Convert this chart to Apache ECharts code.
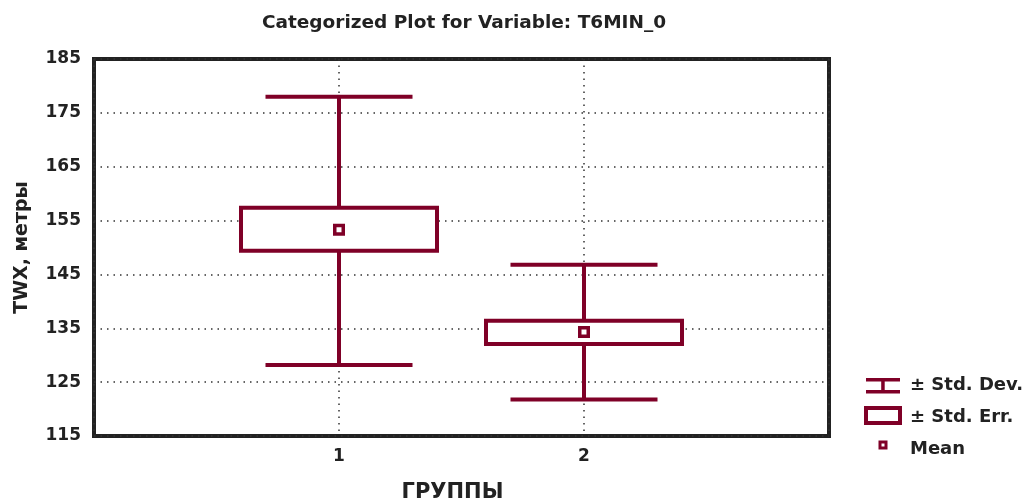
<!DOCTYPE html>
<html>
<head>
<meta charset="utf-8">
<script src="https://cdn.jsdelivr.net/npm/echarts@6/dist/echarts.min.js"></script>
<style>
  html, body { margin: 0; padding: 0; background: #fff; }
  #chart { width: 1025px; height: 503px; }
</style>
</head>
<body>
<div id="chart"></div>
<script>
// Group labels and per-group statistics of TWX (metres)
const groups = ['1', '2'];
const means  = [153.3, 134.3];
const seLow  = [149.4, 132.1];
const seHigh = [157.4, 136.4];
const sdLow  = [128.2, 121.8];
const sdHigh = [178.0, 146.8];
const yTicks = [115, 125, 135, 145, 155, 165, 175, 185];

const MAROON = '#7f0027';
const FONT = 'DejaVu Sans';
const BOX_HALF = 0.4;   // box half-width, x units
const CAP_HALF = 0.3;   // whisker cap half-width, x units

const sdData = groups.map((g, i) => [i + 1, sdLow[i], sdHigh[i]]);
const seData = groups.map((g, i) => [i + 1, seLow[i], seHigh[i]]);
const meanData = groups.map((g, i) => [i + 1, means[i]]);

const chart = echarts.init(document.getElementById('chart'), null, { renderer: 'canvas' });

chart.setOption({
  backgroundColor: '#fff',
  animation: false,
  title: {
    text: 'Categorized Plot for Variable: T6MIN_0',
    left: 459,
    top: 9,
    textAlign: 'center',
    textStyle: { fontFamily: FONT, fontWeight: 'bold', fontSize: 18.5, color: '#222' }
  },
  grid: {
    left: 94, right: 196, top: 59, bottom: 67,
    containLabel: false,
    outerBoundsMode: 'none',
    show: true, borderColor: '#222', borderWidth: 4, backgroundColor: '#fff'
  },
  xAxis: {
    type: 'value',
    min: 0, max: 3, interval: 1,
    name: 'ГРУППЫ',
    nameLocation: 'middle',
    nameGap: 46,
    nameTextStyle: { fontFamily: FONT, fontWeight: 'bold', fontSize: 21, color: '#222', padding: [0, 18, 0, 0] },
    axisLine: { show: false },
    axisTick: { show: false },
    axisLabel: {
      margin: 12,
      fontFamily: FONT, fontWeight: 'bold', fontSize: 17, color: '#222',
      formatter: v => groups[v - 1] !== undefined ? groups[v - 1] : ''
    },
    splitLine: { show: true, lineStyle: { color: '#333', width: 1.5, type: [1.5, 5] } }
  },
  yAxis: {
    type: 'value',
    min: yTicks[0], max: yTicks[yTicks.length - 1], interval: 10,
    name: 'TWX, метры',
    nameLocation: 'middle',
    nameGap: 62,
    nameRotate: 90,
    nameTextStyle: { fontFamily: FONT, fontWeight: 'bold', fontSize: 19, color: '#222' },
    axisLine: { show: false },
    axisTick: { show: false },
    axisLabel: { margin: 13, fontFamily: FONT, fontWeight: 'bold', fontSize: 17, color: '#222' },
    splitLine: { show: true, lineStyle: { color: '#333', width: 1.5, type: [1.5, 5] } }
  },
  series: [
    {
      name: '± Std. Dev.',
      type: 'custom',
      data: sdData,
      z: 2,
      renderItem: (params, api) => {
        const x = api.value(0);
        const top = api.coord([x, api.value(2)]);
        const bot = api.coord([x, api.value(1)]);
        const capL = api.coord([x - CAP_HALF, api.value(2)])[0];
        const capR = api.coord([x + CAP_HALF, api.value(2)])[0];
        const style = { stroke: MAROON, lineWidth: 4, fill: null };
        return {
          type: 'group',
          children: [
            { type: 'line', shape: { x1: top[0], y1: top[1], x2: bot[0], y2: bot[1] }, style },
            { type: 'line', shape: { x1: capL, y1: top[1], x2: capR, y2: top[1] }, style },
            { type: 'line', shape: { x1: capL, y1: bot[1], x2: capR, y2: bot[1] }, style }
          ]
        };
      }
    },
    {
      name: '± Std. Err.',
      type: 'custom',
      data: seData,
      z: 3,
      renderItem: (params, api) => {
        const x = api.value(0);
        const tl = api.coord([x - BOX_HALF, api.value(2)]);
        const br = api.coord([x + BOX_HALF, api.value(1)]);
        return {
          type: 'rect',
          shape: { x: tl[0], y: tl[1], width: br[0] - tl[0], height: br[1] - tl[1] },
          style: { fill: '#fff', stroke: MAROON, lineWidth: 4 }
        };
      }
    },
    {
      name: 'Mean',
      type: 'scatter',
      data: meanData,
      z: 4,
      symbol: 'rect',
      symbolSize: 8.5,
      itemStyle: { color: '#fff', borderColor: MAROON, borderWidth: 3.5, opacity: 1 }
    }
  ],
  graphic: [
    // legend: Std. Dev. icon
    { type: 'rect', shape: { x: 866, y: 378, width: 34, height: 3.5 }, style: { fill: MAROON } },
    { type: 'rect', shape: { x: 881.2, y: 378, width: 3.5, height: 15 }, style: { fill: MAROON } },
    { type: 'rect', shape: { x: 866, y: 390, width: 34, height: 3.5 }, style: { fill: MAROON } },
    { type: 'text', left: 910, top: 376, style: { text: '± Std. Dev.', fontFamily: FONT, fontWeight: 'bold', fontSize: 18, fill: '#222' } },
    // legend: Std. Err. icon
    { type: 'rect', shape: { x: 866, y: 408, width: 34, height: 15 }, style: { fill: '#fff', stroke: MAROON, lineWidth: 4 } },
    { type: 'text', left: 910, top: 408, style: { text: '± Std. Err.', fontFamily: FONT, fontWeight: 'bold', fontSize: 18, fill: '#222' } },
    // legend: Mean icon
    { type: 'rect', shape: { x: 880, y: 442, width: 6, height: 6 }, style: { fill: '#fff', stroke: MAROON, lineWidth: 3 } },
    { type: 'text', left: 910, top: 440, style: { text: 'Mean', fontFamily: FONT, fontWeight: 'bold', fontSize: 18, fill: '#222' } }
  ]
});
</script>
</body>
</html>
